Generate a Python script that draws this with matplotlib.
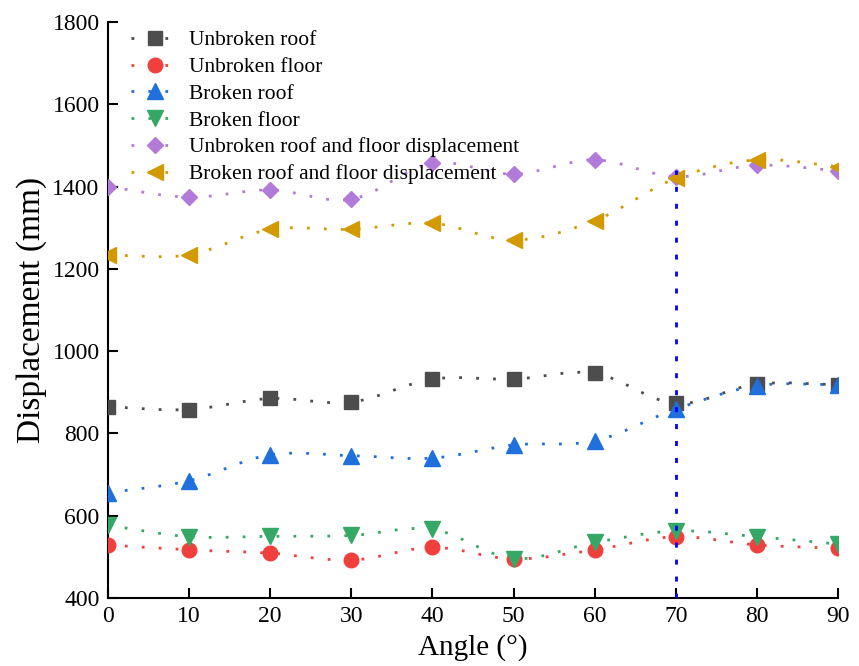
import numpy as np
import matplotlib
matplotlib.use("Agg")
import matplotlib.pyplot as plt
from matplotlib.path import Path
from matplotlib.patches import PathPatch
from matplotlib.lines import Line2D

plt.rcParams["font.family"] = ["Liberation Serif", "DejaVu Serif"]

# data
angles = [0, 10, 20, 30, 40, 50, 60, 70, 80, 90]
unbroken_roof = [865, 858, 885, 876, 932, 932, 946, 873, 920, 918]
unbroken_floor = [529, 517, 509, 492, 523, 495, 517, 549, 529, 521]
broken_roof = [656, 685, 748, 746, 740, 772, 782, 859, 916, 918]
broken_floor = [577, 549, 550, 552, 567, 496, 535, 563, 549, 531]
unbroken_disp = [1400, 1374, 1392, 1369, 1457, 1430, 1465, 1424, 1452, 1438]
broken_disp = [1234, 1234, 1296, 1296, 1311, 1270, 1317, 1420, 1465, 1448]

series = [
    ("Unbroken roof", unbroken_roof, "#4d4d4d", "s", 10),
    ("Unbroken floor", unbroken_floor, "#f0403e", "o", 10.5),
    ("Broken roof", broken_roof, "#1f6fdc", "^", 11),
    ("Broken floor", broken_floor, "#36a866", "v", 11),
    ("Unbroken roof and floor displacement", unbroken_disp, "#b27ad9", "D", 8),
    ("Broken roof and floor displacement", broken_disp, "#d39a00", "<", 11),
]

DOTS = (0, (1, 5.1))


def spline_path(x, y):
    """Catmull-Rom curve through the points, as cubic Bezier segments."""
    n = len(x)
    verts = [(x[0], y[0])]
    codes = [Path.MOVETO]
    for i in range(n - 1):
        a = max(i - 1, 0)
        b = min(i + 2, n - 1)
        c1 = (x[i] + (x[i + 1] - x[a]) / 6, y[i] + (y[i + 1] - y[a]) / 6)
        c2 = (x[i + 1] - (x[b] - x[i]) / 6, y[i + 1] - (y[b] - y[i]) / 6)
        verts += [c1, c2, (x[i + 1], y[i + 1])]
        codes += [Path.CURVE4] * 3
    return Path(verts, codes)


fig = plt.figure(figsize=(8.59, 6.66), dpi=100)
ax = fig.add_axes([0.1257, 0.1021, 0.8499, 0.8649])

handles, labels = [], []
for label, vals, color, marker, ms in series:
    patch = PathPatch(spline_path(angles, vals), fill=False, edgecolor=color,
                      lw=2, linestyle=DOTS, zorder=2)
    ax.add_patch(patch)
    ax.plot(angles, vals, ls="none", marker=marker, ms=ms, color=color,
            mec=color, zorder=3)
    handles.append(Line2D([], [], color=color, lw=2, linestyle=DOTS,
                          marker=marker, ms=ms, mec=color))
    labels.append(label)

ax.vlines(70, 400, 1440, colors="#0000ff", lw=2, linestyles=(0, (1.8, 4.3)),
          zorder=4)

ax.set_xlim(0, 90)
ax.set_ylim(400, 1800)
ax.set_xticks(np.arange(0, 91, 10))
ax.set_yticks(np.arange(400, 1801, 200))
for side in ("top", "right"):
    ax.spines[side].set_visible(False)
for side in ("left", "bottom"):
    ax.spines[side].set_linewidth(1.5)
ax.tick_params(direction="in", length=7, width=1.5, labelsize=17, pad=6)
ax.set_xlabel("Angle (°)", fontsize=21, labelpad=5)
ax.set_ylabel("Displacement (mm)", fontsize=24, labelpad=4)

ax.legend(handles, labels, loc="upper left", frameon=False, fontsize=15.5,
          handlelength=2.2, handletextpad=0.5, labelspacing=0.31,
          borderaxespad=0.2, bbox_to_anchor=(0.014, 1.008))

fig.savefig("out.png", dpi=100)
